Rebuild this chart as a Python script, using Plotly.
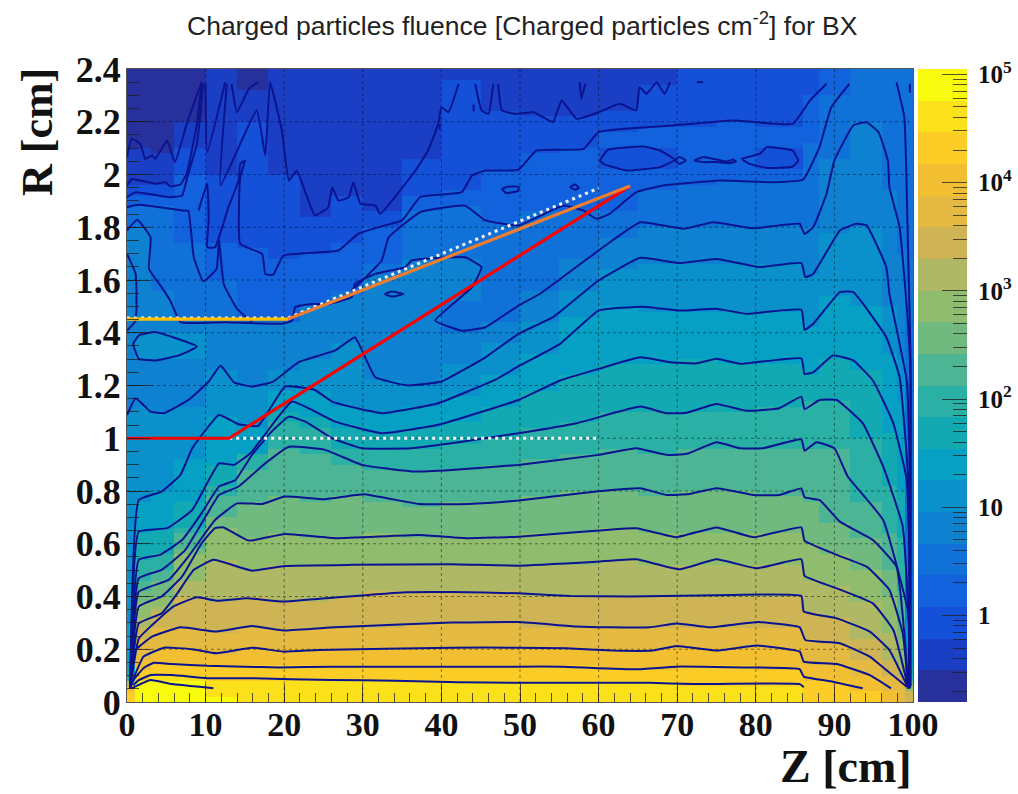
import math
import plotly.graph_objects as go

W, H = 1018, 794
TITLE = "Charged particles fluence [Charged particles cm<sup>-2</sup>] for BX"
Z_MAX, R_MAX = 100, 2.4
LOG_MIN, LOG_MAX = -0.8, 5.05

BAND_COLORS = ["#27309B", "#1A3FC4", "#1450D8", "#1162DC", "#1072D8", "#0E82D0", "#0A90CB", "#05A0C3",
               "#12A9B3", "#2AB0A4", "#4DB594", "#70BA80", "#90BC6E", "#AFB864", "#CEB455", "#E5BA43",
               "#F2BF33", "#FBCD26", "#FBE11C", "#F9FB0E"]

# heat cells: column edges in Z
Z_EDGES = [0, 1, 3, 6, 10, 14, 18, 22, 26, 30, 35, 40, 45, 50, 55, 60, 65, 70, 75, 80, 86, 88, 92, 96, 98, 99, 100]

# upper R of each colour band in each Z column (band index -> list)
BAND_TOP_19 = [0, .08, .08, .07, .03, 0, 0, 0, 0, 0, 0, 0, 0, 0, 0, 0, 0, 0, 0, 0, 0, 0, 0, 0, 0, 0]
BAND_TOP_18 = [0, .09, .10, .10, .09, .09, .09, .085, .083, .081, .078, .075, .073, .073, .073, .073, .073, .068, .068, .068, 0, 0, 0, 0, 0, 0]
BAND_TOP_17 = [.05, .125, .145, .14, .136, .134, .131, .133, .134, .134, .134, .134, .134, .134, .134, .127, .128, .133, .133, .128, .09, .077, .045, 0, 0, 0]
BAND_TOP_16 = [.055, .17, .205, .2, .186, .205, .192, .196, .2, .203, .205, .206, .206, .205, .2, .195, .2, .2, .205, .2, .15, .144, .095, .05, 0, 0]
BAND_TOP_15 = [.06, .24, .275, .28, .27, .288, .272, .28, .287, .29, .296, .302, .303, .29, .285, .283, .29, .29, .29, .29, .232, .22, .165, .10, .07, 0]
BAND_TOP_14 = [.06, .28, .34, .395, .385, .393, .38, .39, .4, .413, .416, .416, .412, .405, .402, .4, .402, .405, .405, .403, .335, .32, .25, .17, .10, .04]
BAND_TOP_13 = [.07, .32, .37, .46, .535, .5, .516, .52, .52, .52, .522, .522, .517, .525, .53, .537, .52, .52, .53, .525, .465, .435, .38, .26, .15, .05]
BAND_TOP_12 = [.07, .38, .41, .56, .66, .612, .637, .625, .625, .632, .63, .622, .625, .635, .642, .655, .635, .65, .64, .64, .595, .558, .51, .4, .24, .06]
BAND_TOP_11 = [.08, .43, .47, .59, .7, .755, .78, .77, .785, .77, .75, .752, .76, .78, .795, .805, .79, .80, .795, .79, .77, .69, .62, .5, .3, .07]
BAND_TOP_10 = [.09, .47, .51, .64, .79, .88, .965, .95, .905, .88, .875, .885, .895, .925, .94, .955, .94, .97, .965, .97, .97, .96, .77, .65, .42, .08]
BAND_TOP_9 = [.1, .54, .56, .66, .825, .94, 1.07, 1.04, .97, .96, .965, .99, 1.01, 1.05, 1.06, 1.1, 1.1, 1.11, 1.11, 1.12, 1.14, 1.145, 1.0, .83, .62, .1]
BAND_TOP_8 = [.12, .65, .66, .76, .905, .95, 1.1, 1.09, 1.04, 1.02, 1.04, 1.07, 1.12, 1.19, 1.25, 1.29, 1.29, 1.295, 1.28, 1.29, 1.25, 1.31, 1.26, 1.03, .8, .15]
BAND_TOP_7 = [.3, .77, .81, .93, 1.09, 1.05, 1.18, 1.18, 1.12, 1.095, 1.12, 1.16, 1.24, 1.33, 1.46, 1.5, 1.49, 1.49, 1.475, 1.48, 1.43, 1.55, 1.5, 1.33, 1.15, .2]
BAND_TOP_6 = [1.1, 1.13, 1.1, 1.13, 1.27, 1.2, 1.26, 1.31, 1.37, 1.22, 1.205, 1.28, 1.36, 1.44, 1.56, 1.65, 1.67, 1.67, 1.66, 1.655, 1.62, 1.79, 1.81, 1.5, 1.3, .3]
BAND_TOP_5 = [1.8, 1.8, 1.57, 1.44, 1.44, 1.44, 1.44, 1.51, 1.54, 1.63, 1.68, 1.68, 1.45, 1.56, 1.68, 1.77, 1.81, 1.80, 1.81, 1.80, 1.8, 2.07, 2.2, 1.95, 1.7, .4]
BAND_TOP_4 = [1.88, 1.885, 1.88, 1.75, 1.6, 1.45, 1.44, 1.51, 1.56, 1.67, 1.86, 1.88, 1.82, 1.87, 1.86, 1.87, 1.95, 1.965, 1.975, 1.975, 2.12, 2.3, 2.4, 2.4, 2.4, 2.4]
BAND_TOP_3 = [1.92, 1.93, 1.92, 2.0, 1.75, 1.72, 1.69, 1.70, 1.74, 1.81, 1.92, 1.95, 2.016, 2.09, 2.1, 2.17, 2.18, 2.19, 2.205, 2.19, 2.3, 2.4, 2.4, 2.4, 2.4, 2.4]
BAND_TOP_2 = [1.97, 1.97, 1.965, 2.1, 2.0, 2.2, 2.0, 1.85, 1.93, 1.87, 2.07, 2.35, 2.24, 2.22, 2.22, 2.25, 2.33, 2.4, 2.4, 2.4, 2.4, 2.4, 2.4, 2.4, 2.4, 2.4]
BAND_TOP_1 = [2.1, 2.1, 2.09, 2.2, 2.4, 2.32, 2.4, 2.4, 2.4, 2.4, 2.4, 2.4, 2.4, 2.4, 2.4, 2.4, 2.4, 2.4, 2.4, 2.4, 2.4, 2.4, 2.4, 2.4, 2.4, 2.4]
# islands read separately: first column, last column, R low, R high, band
BAND_ISLANDS = [(1, 3, 1.30, 1.40, 6), (11, 11, 1.41, 1.53, 4), (15, 16, 2.02, 2.10, 2), (19, 19, 2.03, 2.10, 2)]

# contour lines as (Z, R)
L1 = [(.6, .052), (3, .083), (5.7, .068), (11, .052)]
L2 = [(.8, .064), (1.5, .083), (3, .102), (5.7, .102), (10.2, .09), (15.9, .09), (26.1, .083), (34.1, .081), (42.2, .075), (49.8, .073), (66.5, .073), (72, .068), (85.6, .068), (86.1, .056)]
L3 = [(.4, .052), (.8, .083), (2.1, .128), (3.4, .149), (5.7, .144), (10.2, .137), (15, .134), (19.3, .131), (26, .134), (34, .134), (49.8, .134), (55.5, .134), (64.8, .124), (69.9, .134), (79.7, .131), (85.6, .124), (86.1, .096), (89.8, .077), (93.6, .052)]
L4 = [(.4, .052), (1.1, .109), (2.1, .172), (4.7, .206), (8.3, .2), (11.4, .185), (15.9, .206), (19.9, .191), (24.4, .197), (41.3, .206), (49.8, .206), (55.9, .204), (61.9, .195), (66.9, .195), (69.9, .212), (75, .195), (80.1, .214), (85.6, .191), (86.1, .153), (90.3, .144), (94.5, .102), (97.2, .052)]
L5 = [(.4, .052), (1.1, .197), (3.2, .248), (6.8, .283), (11.4, .267), (15.9, .288), (20.1, .271), (26.5, .283), (41.3, .301), (49.8, .303), (57.2, .286), (61.4, .283), (66.5, .283), (69.9, .298), (74.2, .283), (80.3, .303), (85.6, .283), (86.3, .235), (90.7, .223), (94.5, .172), (96.6, .121), (99.2, .058)]
L6 = [(.4, .052), (1.5, .241), (3.2, .292), (5.9, .362), (8.9, .397), (11.4, .384), (15.3, .393), (19.9, .381), (25.2, .393), (35.4, .416), (41.3, .417), (49.8, .412), (56.4, .402), (64, .4), (77.1, .406), (85.8, .402), (86.1, .343), (90.3, .317), (94.5, .267), (97, .197), (99.4, .052)]
L7 = [(.4, .052), (1.5, .298), (4.4, .336), (6.4, .412), (8.5, .501), (11, .539), (15.9, .498), (20.1, .516), (28.6, .52), (41.3, .522), (49.8, .517), (59.7, .532), (64.8, .541), (70.3, .503), (75, .541), (80.1, .507), (85.8, .541), (86.2, .478), (90.3, .431), (94.9, .374), (97.5, .273), (99.4, .052)]
L8 = [(.4, .052), (1.5, .362), (4.4, .4), (7, .475), (9.5, .602), (11.2, .659), (12.3, .662), (15.5, .612), (20.1, .637), (26.5, .621), (37.1, .633), (43.4, .621), (49.8, .627), (55.5, .64), (64.8, .659), (69.9, .625), (75, .662), (79.7, .625), (85.8, .662), (86.2, .612), (90.3, .558), (94.1, .513), (97, .425), (98.7, .26), (99.4, .052)]
L9 = [(.4, .052), (1.5, .418), (5.3, .463), (7.8, .551), (11.2, .69), (14, .753), (17.2, .751), (20.1, .779), (25.2, .769), (30.1, .788), (37.1, .751), (43.4, .751), (49.8, .764), (59.7, .798), (65.3, .81), (68.6, .785), (71.6, .789), (75, .81), (79.7, .785), (83, .785), (85.8, .81), (86.2, .776), (88.1, .766), (90.7, .684), (94.9, .614), (97.9, .513), (98.9, .26), (99.4, .052)]
L10 = [(.4, .052), (1.5, .469), (4.4, .501), (7.4, .576), (10, .703), (11.7, .785), (14.2, .817), (17.6, .905), (20.6, .968), (25.2, .956), (29.9, .899), (36.2, .874), (41.3, .88), (49.8, .899), (60, .937), (64.8, .962), (68.6, .937), (71.2, .941), (75, .985), (78, .962), (80.9, .962), (85.8, .996), (86.2, .952), (87.7, .985), (90, .962), (91.7, .855), (96.2, .69), (99.4, .336), (99.5, .052)]
L11 = [(.4, .052), (1.5, .539), (4.2, .558), (7, .614), (9.5, .716), (11.7, .817), (13.8, .842), (15.9, .937), (18.4, 1.025), (20.6, 1.082), (22.7, 1.063), (26.1, 1.0), (29.9, .962), (36.2, .962), (41.3, .981), (49.8, 1.019), (57.2, 1.057), (65.3, 1.12), (68.6, 1.095), (71.2, 1.097), (75, 1.13), (78.8, 1.104), (83, 1.114), (85.8, 1.158), (86.2, 1.11), (88.1, 1.145), (90.3, 1.145), (93.6, 1.057), (96.2, .893), (98.7, .665), (99.6, .21), (99.5, .052)]
L12 = [(.4, .052), (1.5, .646), (5.1, .659), (8.3, .728), (11.7, .905), (13.6, .899), (15.7, .943), (18, 1.032), (21, 1.139), (26.5, 1.063), (32.4, 1.019), (39.6, 1.051), (49.8, 1.145), (55.1, 1.219), (60, 1.263), (65.3, 1.307), (69.1, 1.288), (72.5, 1.284), (75, 1.301), (78, 1.282), (85.8, 1.303), (86.2, 1.244), (87.3, 1.25), (89.8, 1.314), (92.4, 1.295), (94.9, 1.219), (97.5, 1.057), (99.2, .842), (99.6, .463), (99.5, .052)]
L13 = [(.4, .052), (1.5, .766), (4.4, .798), (6.8, .861), (8.3, .962), (11.7, 1.088), (14.2, 1.053), (16.7, 1.047), (20.1, 1.196), (23.9, 1.183), (26.1, 1.139), (32.4, 1.095), (39.6, 1.133), (46.8, 1.221), (50, 1.276), (55.1, 1.358), (60, 1.484), (65.7, 1.499), (70.3, 1.484), (75, 1.491), (78.8, 1.472), (85.8, 1.487), (86.2, 1.411), (87.3, 1.434), (90.7, 1.554), (92.4, 1.554), (96.6, 1.383), (98.3, 1.231), (99.4, .842), (99.6, .052)]
L14 = [(0, 1.088), (1.1, 1.152), (3, 1.101), (4.7, 1.095), (7.8, 1.145), (10.4, 1.215), (11.9, 1.276), (13.6, 1.212), (15.9, 1.196), (18.6, 1.215), (21.8, 1.288), (26.5, 1.333), (29, 1.383), (30.1, 1.32), (31.6, 1.231), (35.8, 1.2), (40, 1.215), (45.6, 1.307), (49.8, 1.396), (54.2, 1.459), (60, 1.598), (65.3, 1.684), (70.3, 1.664), (75, 1.68), (80.5, 1.649), (85.8, 1.664), (86.3, 1.611), (87.3, 1.623), (90.7, 1.788), (92.8, 1.813), (94.1, 1.807), (96.6, 1.649), (97, 1.547), (99.2, 1.219), (99.6, .842), (99.6, .052)]
L15 = [(0, 1.788), (1.3, 1.828), (3, 1.762), (2.8, 1.642), (4.4, 1.573), (5.5, 1.522), (6.8, 1.44), (12.5, 1.44), (19.7, 1.434), (21, 1.446), (21.4, 1.497), (23.5, 1.509), (25.6, 1.509), (28.6, 1.535), (29, 1.585), (31.6, 1.623), (35.4, 1.649), (36.2, 1.674), (43, 1.686), (45.1, 1.649), (43.9, 1.573), (39.2, 1.446), (42.6, 1.408), (45.6, 1.421), (49.8, 1.503), (52.5, 1.547), (60, 1.712), (65.3, 1.819), (70.8, 1.794), (74.6, 1.819), (79.7, 1.796), (85.6, 1.813), (86.2, 1.775), (87.3, 1.8), (89, 1.927), (90, 2.053), (92.4, 2.186), (94.1, 2.198), (95.6, 2.161), (96.8, 2.053), (97, 1.952), (98.3, 1.8), (99.4, 1.421), (99.7, 1.219), (99.7, .06)]
L15_EDGE = [(0, 1.699), (1.1, 1.623), (1.1, 1.446), (0, 1.408)]
L16_LEFT = [(0, 1.876), (1.5, 1.885), (7.2, 1.863), (7.8, 1.863), (8.5, 1.686), (9.7, 1.595), (11.4, 1.642), (11.7, 1.756), (12.3, 1.585), (14, 1.491), (15.9, 1.44)]
L16 = [(28.6, 1.56), (32.4, 1.674), (33.3, 1.762), (37.3, 1.857), (43, 1.882), (45.6, 1.826), (49.8, 1.807), (55.5, 1.882), (58.1, 1.863), (59.7, 1.832), (61.4, 1.851), (64.8, 1.933), (68.2, 1.958), (75.4, 1.977), (82.2, 1.971), (86, 1.98), (88.1, 2.104), (89.6, 2.255), (91.9, 2.344)]
L17 = [(9.1, 1.864), (10.2, 1.965), (10.4, 1.826), (10.2, 1.724), (11.2, 1.724), (12.9, 1.876), (14.2, 1.977), (14.4, 2.04), (15, 2.053), (14.4, 1.99), (14.4, 1.737), (17.2, 1.699), (17.6, 1.623), (18.6, 1.62), (19.9, 1.693), (26.9, 1.712), (29.4, 1.775), (32.8, 1.807), (35, 1.826), (37.3, 1.914), (42.6, 1.933), (43.9, 1.996), (45.6, 2.015), (49.8, 2.018), (52.1, 2.091), (58.1, 2.097), (60, 2.161), (69.5, 2.186), (77.1, 2.205), (84.7, 2.192), (86.9, 2.281), (89, 2.344)]
L17_LEFT = [(0, 1.914), (1.1, 1.933), (5.5, 1.914), (7, 1.92), (7.8, 2.003), (8.9, 2.116), (9.7, 2.344)]
L18_LEFT = [(0, 1.958), (.6, 1.983), (3.6, 1.965), (4.9, 1.971), (5.5, 1.955), (6.8, 1.962), (7.6, 2.003), (8.9, 2.192), (9.5, 2.35)]
L19_LEFT = [(0, 2.066), (.6, 2.135), (1.7, 2.116), (2.3, 2.059), (3.2, 2.072), (3.6, 2.059), (5.1, 2.129), (6.1, 2.047), (7.6, 2.192), (9.5, 2.35)]
L18 = [(12.7, 2.344), (11.9, 1.958), (16.5, 2.243), (17.6, 2.072), (18.2, 2.35), (19.7, 2.167), (20.6, 1.977), (21.6, 2.015), (23.9, 1.845), (25.6, 1.876), (26.1, 1.952), (26.9, 1.901), (28.2, 1.914), (28.8, 1.971), (29.7, 1.889), (31.6, 1.882), (32.2, 1.851), (36.7, 2.015), (38.3, 2.091), (39.6, 2.192), (40, 2.255), (40.9, 2.236), (42.2, 2.344)]
L18_B = [(44.3, 2.344), (45.1, 2.243), (46, 2.23), (46.6, 2.344)]
L18_C = [(47.2, 2.344), (47.7, 2.243), (49.4, 2.23), (51.7, 2.236), (54.2, 2.199), (55.3, 2.281), (57.2, 2.211), (60, 2.236), (62.7, 2.268), (64.8, 2.243), (65.2, 2.331), (66.1, 2.306), (67.4, 2.35), (68.4, 2.306), (69.1, 2.35)]
L19_B = [(10, 2.344), (10.2, 2.085), (12.5, 2.35)]
L19_C = [(13.3, 2.344), (14, 2.236), (15.5, 2.325), (16.7, 2.35)]
SPIKE_A = [(57.6, 2.35), (57.8, 2.287), (58.3, 2.344)]
RIGHT_EDGE = [(97.9, 2.35), (98.9, 2.217), (99.4, 1.674), (99.7, 1.29), (99.6, .06)]
ISLAND_A = [(.8, 1.358), (1.5, 1.39), (3.6, 1.403), (8.9, 1.348), (6.6, 1.314), (3.6, 1.295), (1.5, 1.301), (.8, 1.358)]
ISLAND_B = [(32.8, 1.547), (33.7, 1.556), (35.2, 1.547), (33.7, 1.537), (32.8, 1.547)]
ISLAND_C = [(60.2, 2.053), (61.2, 2.094), (65.7, 2.106), (67.8, 2.091), (69.7, 2.056), (67.8, 2.028), (63.6, 2.015), (60.6, 2.04), (60.2, 2.053)]
ISLAND_D = [(69.7, 2.056), (70.3, 2.066), (71.1, 2.053), (70.3, 2.04), (69.7, 2.056)]
ISLAND_E = [(72.2, 2.053), (73.3, 2.066), (75, 2.057), (76.3, 2.049), (77.1, 2.057), (77.5, 2.049), (76.5, 2.043), (75, 2.047), (73.3, 2.047), (72.2, 2.053)]
ISLAND_F = [(78.2, 2.059), (80.5, 2.078), (81.4, 2.104), (83.9, 2.097), (84.7, 2.091), (85.4, 2.053), (84.7, 2.03), (81.4, 2.025), (79.2, 2.04), (78.2, 2.059)]
ISLAND_G = [(47.7, 1.945), (48.3, 1.929), (49.8, 1.939), (49.8, 1.954), (48.5, 1.954), (47.7, 1.945)]
ISLAND_H = [(56.4, 1.952), (57, 1.962), (57.5, 1.949), (57, 1.942), (56.4, 1.952)]
TINY_A = [(39.8, 2.19), (39.8, 2.17)]
TINY_B = [(44.1, 2.265), (44.1, 2.24)]
TINY_C = [(72.5, 2.35), (73.3, 2.35)]
TINY_D = [(99.6, 2.344), (99.6, 2.31)]

# overlay lines
RED_LINE = [(0, 1.0), (13, 1.0), (64, 1.956)]
YELLOW_LINE = [(0, 1.452), (20.5, 1.452)]
ORANGE_LINE = [(20.5, 1.452), (64, 1.956)]
WHITE_LOW = [(13, 1.0), (60, 1.0)]
WHITE_UP = [(0, 1.456), (20.5, 1.456), (60, 1.948)]

X_MAJOR = [0, 10, 20, 30, 40, 50, 60, 70, 80, 90, 100]
Y_MAJOR = [0, .2, .4, .6, .8, 1, 1.2, 1.4, 1.6, 1.8, 2, 2.2, 2.4]
Y_LABELS = ["0", "0.2", "0.4", "0.6", "0.8", "1", "1.2", "1.4", "1.6", "1.8", "2", "2.2", "2.4"]
CB_MAJOR = [0, 1, 2, 3, 4, 5]
CB_LABELS = ["1", "10", "10<sup>2</sup>", "10<sup>3</sup>", "10<sup>4</sup>", "10<sup>5</sup>"]

CONTOURS = [L1, L2, L3, L4, L5, L6, L7, L8, L9, L10, L11, L12, L13, L14, L15, L15_EDGE, L16_LEFT, L16, L17, L17_LEFT,
            L18_LEFT, L19_LEFT, L18, L18_B, L18_C, L19_B, L19_C, SPIKE_A, RIGHT_EDGE, ISLAND_A, ISLAND_B, ISLAND_C,
            ISLAND_D, ISLAND_E, ISLAND_F, ISLAND_G, ISLAND_H, TINY_A, TINY_B, TINY_C, TINY_D]
BAND_TOPS = {19: BAND_TOP_19, 18: BAND_TOP_18, 17: BAND_TOP_17, 16: BAND_TOP_16, 15: BAND_TOP_15, 14: BAND_TOP_14,
             13: BAND_TOP_13, 12: BAND_TOP_12, 11: BAND_TOP_11, 10: BAND_TOP_10, 9: BAND_TOP_9, 8: BAND_TOP_8,
             7: BAND_TOP_7, 6: BAND_TOP_6, 5: BAND_TOP_5, 4: BAND_TOP_4, 3: BAND_TOP_3, 2: BAND_TOP_2, 1: BAND_TOP_1}

N = len(BAND_COLORS)
STEP = (LOG_MAX - LOG_MIN) / N
band_mid = [LOG_MIN + STEP * (i + .5) for i in range(N)]
band_edges = [LOG_MIN + STEP * i for i in range(N + 1)]
colorscale = []
for i, c in enumerate(BAND_COLORS):
    colorscale += [[i / N, c], [(i + 1) / N, c]]

r_edges = [i * .02 for i in range(121)]
ncols = len(Z_EDGES) - 1


def cell_band(col, r):
    for lo, hi, rlo, rhi, b in BAND_ISLANDS:
        if lo <= col <= hi and rlo <= r < rhi:
            return b
    for b in range(19, 0, -1):
        if r < BAND_TOPS[b][col]:
            return b
    return 0


z_cells = []
for j in range(120):
    rc = r_edges[j] + .01
    z_cells.append([band_mid[cell_band(c, rc)] for c in range(ncols)])

fig = go.Figure()
fig.add_trace(go.Heatmap(x=Z_EDGES, y=r_edges, z=z_cells, colorscale=colorscale, zmin=LOG_MIN, zmax=LOG_MAX,
                         showscale=False, hoverinfo="skip"))

# dotted grid drawn above the heat cells
gx, gy = [], []
for v in X_MAJOR[1:-1]:
    gx += [v, v, None]
    gy += [0, R_MAX, None]
for v in Y_MAJOR[1:-1]:
    gx += [0, Z_MAX, None]
    gy += [v, v, None]
fig.add_trace(go.Scatter(x=gx, y=gy, mode="lines", line=dict(color="rgba(0,0,0,0.45)", width=1, dash="dot"),
                         hoverinfo="skip", showlegend=False))

for pts in CONTOURS:
    fig.add_trace(go.Scatter(x=[p[0] for p in pts], y=[p[1] for p in pts], mode="lines",
                             line=dict(color="#0A1490", width=2, shape="spline", smoothing=0.35), hoverinfo="skip",
                             showlegend=False))


def overlay(pts, color, width, dash="solid"):
    fig.add_trace(go.Scatter(x=[p[0] for p in pts], y=[p[1] for p in pts], mode="lines",
                             line=dict(color=color, width=width, dash=dash), hoverinfo="skip", showlegend=False))


overlay(WHITE_LOW, "#F4F4F4", 3, "3px,4px")
overlay(WHITE_UP, "#F4F4F4", 3, "3px,4px")
overlay(YELLOW_LINE, "#FFC000", 3.2)
overlay(RED_LINE, "#FF0000", 3.2)
overlay(ORANGE_LINE, "#ED7D31", 3.2)

fig.add_trace(go.Heatmap(x=[0, 1], y=band_edges, z=[[v] for v in band_mid], colorscale=colorscale, zmin=LOG_MIN,
                         zmax=LOG_MAX, showscale=False, xaxis="x2", yaxis="y2", hoverinfo="skip"))

cb_minor = [d + math.log10(k) for d in range(-1, 6) for k in range(2, 10)]
cb_minor = [v for v in cb_minor if LOG_MIN < v < LOG_MAX]

SERIF = "Liberation Serif"
TICK_COLOR = "rgba(30,30,30,0.75)"
fig.update_layout(
    template="none",
    width=W, height=H, autosize=False, margin=dict(l=0, r=0, t=0, b=0, pad=0), paper_bgcolor="white", plot_bgcolor="white",
    showlegend=False,
    xaxis=dict(domain=[127 / W, 913 / W], range=[0, Z_MAX], tickvals=X_MAJOR, ticktext=[str(v) for v in X_MAJOR],
               ticks="inside", ticklen=18, tickwidth=1, tickcolor=TICK_COLOR, showgrid=False, zeroline=False,
               minor=dict(dtick=2, tick0=0, ticks="inside", ticklen=9, tickwidth=1, tickcolor=TICK_COLOR, showgrid=False),
               showline=True, mirror=True, linecolor="#555", linewidth=1, layer="above traces", automargin=False,
               ticklabelstandoff=-8,
               tickfont=dict(family=SERIF, size=34, color="#111", weight="bold"), tickangle=0),
    yaxis=dict(domain=[(H - 702) / H, (H - 69) / H], range=[0, R_MAX], tickvals=Y_MAJOR, ticktext=Y_LABELS,
               ticks="inside", ticklen=24, tickwidth=1, tickcolor=TICK_COLOR, showgrid=False, zeroline=False,
               minor=dict(dtick=.05, tick0=0, ticks="inside", ticklen=12, tickwidth=1, tickcolor=TICK_COLOR, showgrid=False),
               showline=True, mirror=True, linecolor="#555", linewidth=1, layer="above traces", automargin=False,
               ticklabelstandoff=-2,
               tickfont=dict(family=SERIF, size=36, color="#111", weight="bold")),
    xaxis2=dict(domain=[918 / W, 967 / W], range=[0, 1], anchor="y2", showticklabels=False, ticks="", showgrid=False,
                zeroline=False, automargin=False),
    yaxis2=dict(domain=[(H - 702) / H, (H - 69) / H], range=[LOG_MIN, LOG_MAX], anchor="x2", side="right",
                tickvals=CB_MAJOR, ticktext=CB_LABELS, ticks="inside", ticklen=25, tickwidth=1, tickcolor=TICK_COLOR,
                showgrid=False, zeroline=False, layer="above traces", ticklabelstandoff=10, automargin=False,
                minor=dict(tickvals=cb_minor, ticks="inside", ticklen=14, tickwidth=1, tickcolor=TICK_COLOR, showgrid=False),
                tickfont=dict(family=SERIF, size=25, color="#111", weight="bold")),
    annotations=[
        dict(text=TITLE, xref="paper", yref="paper", x=522 / W, y=(H - 24) / H, xanchor="center", yanchor="middle",
             showarrow=False, font=dict(family="Liberation Sans", size=26.5, color="#222")),
        dict(text="<b>R [cm]</b>", xref="paper", yref="paper", x=37 / W, y=(H - 132) / H, xanchor="center",
             yanchor="middle", textangle=-90, showarrow=False, font=dict(family=SERIF, size=44, color="#111")),
        dict(text="<b>Z [cm]</b>", xref="paper", yref="paper", x=914 / W, y=0, xanchor="right",
             yanchor="bottom", showarrow=False, font=dict(family=SERIF, size=46, color="#111")),
    ],
)

fig.write_html("out.html", config=dict(displayModeBar=False),
               post_script="document.body.style.margin='0';document.documentElement.style.overflow='hidden';")
